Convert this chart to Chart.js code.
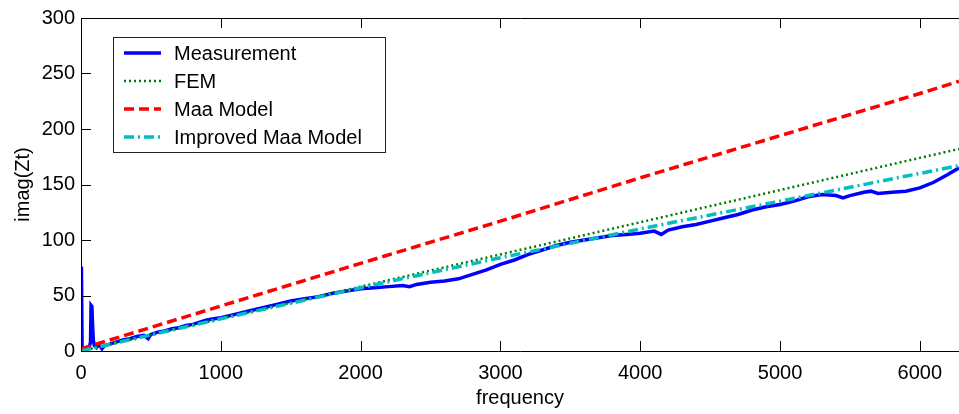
<!DOCTYPE html>
<html>
<head>
<meta charset="utf-8">
<script src="https://cdn.jsdelivr.net/npm/chart.js@4/dist/chart.umd.min.js"></script>
<style>
  html, body { margin: 0; padding: 0; background: #fff; }
  #wrap { width: 959px; height: 414px; }
</style>
</head>
<body>
<div id="wrap"><canvas id="c" width="959" height="414"></canvas></div>
<script>
// ---- data ----
const seriesNames = ['Measurement', 'FEM', 'Maa Model', 'Improved Maa Model'];

const measFreq = [0, 3, 8, 20, 40, 60, 68, 72, 78, 82, 88, 95, 110, 130, 150, 170, 200, 250, 300, 350,
  400, 450, 480, 500, 550, 600, 650, 700, 750, 800, 850, 900, 950, 1000, 1100, 1200, 1300, 1400, 1500,
  1600, 1700, 1800, 1900, 2000, 2100, 2200, 2300, 2350, 2400, 2500, 2600, 2700, 2800, 2900, 3000, 3100,
  3200, 3300, 3400, 3500, 3600, 3700, 3800, 3900, 4000, 4100, 4150, 4200, 4300, 4400, 4500, 4600, 4700,
  4800, 4900, 5000, 5100, 5200, 5300, 5400, 5450, 5500, 5600, 5650, 5700, 5800, 5900, 6000, 6100, 6200, 6280];
const measVals = [2, 76, 3, 1, 3, 4, 8, 41, 40, 26, 10, 5, 3, 6, 2, 5, 6, 8, 10, 11,
  13, 14, 11, 15, 17, 18, 20, 21, 23, 24, 26, 28, 29, 30, 33, 36, 39, 42, 45,
  47, 49, 52, 54, 56, 57, 58, 59, 58, 60, 62, 63, 65, 69, 73, 78, 82,
  87, 91, 95, 98, 100, 102, 104, 105, 106, 108, 105, 109, 112, 114, 117, 120, 123,
  127, 130, 132, 135, 139, 141, 140, 138, 140, 143, 144, 142, 143, 144, 147, 152, 159, 165];

const modelFreq = [0, 1000, 2000, 3000, 4000, 5000, 6000, 6280];
const femVals = [0, 29, 58, 87, 116, 145, 174, 182];
const maaVals = [2, 40.5, 79, 117, 156, 194, 232, 243];
const impVals = [0, 29, 57, 84, 110, 135, 160, 167];

const xTickVals = [0, 1000, 2000, 3000, 4000, 5000, 6000];
const yTickVals = [0, 50, 100, 150, 200, 250, 300];
const xMin = 0, xMax = 6280;
const yMin = 0, yMax = 300;
const xTitle = 'frequency';
const yTitle = 'imag(Zt)';

// ---- build ----
const pts = (xs, ys) => xs.map((x, i) => ({ x: x, y: ys[i] }));

Chart.defaults.font.family = "'Liberation Sans', Arial, sans-serif";
Chart.defaults.font.size = 20;
Chart.defaults.color = '#000';

const TICK = 10;

const framePlugin = {
  id: 'frame',
  afterDatasetsDraw(chart) {
    const { ctx, chartArea: a, scales } = chart;
    ctx.save();
    ctx.strokeStyle = '#000';
    ctx.lineWidth = 1;
    ctx.beginPath();
    ctx.moveTo(a.right + 5, Math.round(a.top) + 0.5);
    ctx.lineTo(Math.round(a.left) + 0.5, Math.round(a.top) + 0.5);
    ctx.lineTo(Math.round(a.left) + 0.5, Math.round(a.bottom) + 0.5);
    ctx.lineTo(a.right + 5, Math.round(a.bottom) + 0.5);
    ctx.stroke();
    ctx.beginPath();
    scales.x.ticks.forEach(t => {
      const px = Math.round(scales.x.getPixelForValue(t.value)) + 0.5;
      ctx.moveTo(px, a.bottom); ctx.lineTo(px, a.bottom - TICK);
      ctx.moveTo(px, a.top); ctx.lineTo(px, a.top + TICK);
    });
    scales.y.ticks.forEach(t => {
      const py = Math.round(scales.y.getPixelForValue(t.value)) + 0.5;
      ctx.moveTo(a.left, py); ctx.lineTo(a.left + TICK, py);
    });
    ctx.stroke();
    ctx.restore();
  }
};

const legendPlugin = {
  id: 'boxLegend',
  afterDraw(chart) {
    const { ctx, chartArea: a } = chart;
    const left = a.left + 32, top = a.top + 19, w = 272, h = 115;
    ctx.save();
    ctx.fillStyle = '#fff';
    ctx.fillRect(left, top, w, h);
    ctx.strokeStyle = '#222';
    ctx.lineWidth = 1;
    ctx.strokeRect(left + 0.5, top + 0.5, w, h);
    ctx.font = "20px 'Liberation Sans', Arial, sans-serif";
    ctx.textBaseline = 'middle';
    ctx.textAlign = 'left';
    chart.data.datasets.forEach((ds, i) => {
      const y = top + 16 + i * 28;
      ctx.beginPath();
      ctx.strokeStyle = ds.borderColor;
      ctx.lineWidth = ds.borderWidth;
      ctx.setLineDash(ds.borderDash || []);
      ctx.moveTo(left + 11, y);
      ctx.lineTo(left + 48, y);
      ctx.stroke();
      ctx.setLineDash([]);
      ctx.fillStyle = '#000';
      ctx.fillText(ds.label, left + 61, y + 1);
    });
    ctx.restore();
  }
};

const setTicks = vals => function (scale) { scale.ticks = vals.map(v => ({ value: v })); };

new Chart(document.getElementById('c'), {
  type: 'line',
  data: {
    datasets: [
      { label: seriesNames[0], data: pts(measFreq, measVals), borderColor: '#0000FF', borderWidth: 3.5, borderDash: [], order: 4 },
      { label: seriesNames[1], data: pts(modelFreq, femVals), borderColor: '#007A00', borderWidth: 2.5, borderDash: [2, 3], order: 3 },
      { label: seriesNames[2], data: pts(modelFreq, maaVals), borderColor: '#FF0000', borderWidth: 3.5, borderDash: [10, 5], order: 2 },
      { label: seriesNames[3], data: pts(modelFreq, impVals), borderColor: '#00BFBF', borderWidth: 3.5, borderDash: [10, 4, 2, 4], order: 1 }
    ]
  },
  options: {
    responsive: false,
    animation: false,
    elements: { point: { radius: 0 }, line: { tension: 0, fill: false } },
    layout: { padding: { top: 17, right: 0, left: 0, bottom: 0 } },
    scales: {
      x: {
        type: 'linear', min: xMin, max: xMax,
        grid: { display: false, drawTicks: false },
        border: { display: false },
        afterBuildTicks: setTicks(xTickVals),
        ticks: { autoSkip: false, maxRotation: 0, padding: 10, callback: v => String(v) },
        title: { display: true, text: xTitle, padding: { top: 0, bottom: 4 } },
        afterFit(s) { s.height = 63; }
      },
      y: {
        type: 'linear', min: yMin, max: yMax,
        grid: { display: false, drawTicks: false },
        border: { display: false },
        afterBuildTicks: setTicks(yTickVals),
        ticks: { padding: 6, callback: v => String(v) },
        title: { display: true, text: yTitle, padding: { top: 11, bottom: 0 } },
        afterFit(s) { s.width = 81; }
      }
    },
    plugins: { legend: { display: false }, tooltip: { enabled: false } }
  },
  plugins: [framePlugin, legendPlugin]
});
</script>
</body>
</html>
